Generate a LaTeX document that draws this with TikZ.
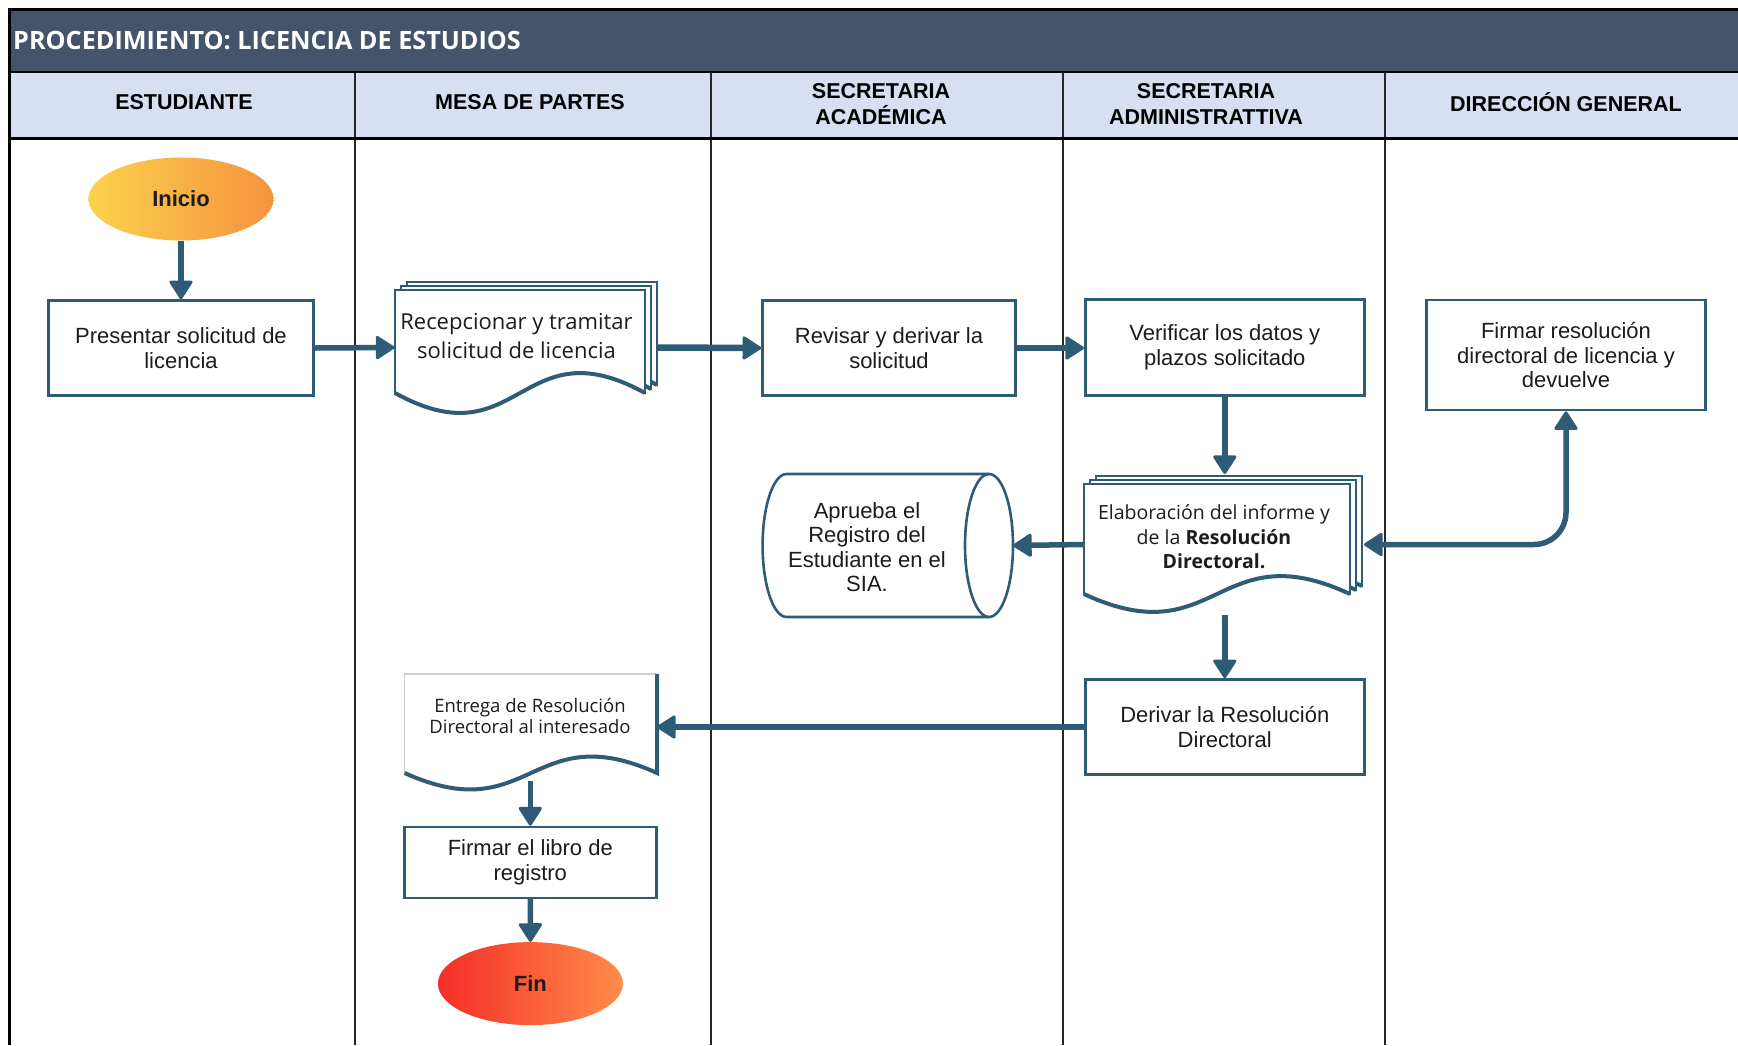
\documentclass[tikz,border=0pt]{standalone}
\usepackage{fontspec}
\setmainfont{Liberation Sans}
\newfontfamily\osans{Open Sans}
\usetikzlibrary{arrows.meta,shapes.geometric}

\definecolor{band}{HTML}{44546A}
\definecolor{lanehead}{HTML}{D9DFF2}
\definecolor{flowc}{HTML}{2E5B75}
\definecolor{boxc}{HTML}{2F5C75}
\definecolor{txt}{HTML}{1C1C1C}
\definecolor{faint}{HTML}{C9CED4}
\definecolor{startL}{HTML}{FBD24C}
\definecolor{startR}{HTML}{F5923F}
\definecolor{endL}{HTML}{F42E27}
\definecolor{endR}{HTML}{FF8C4B}

\tikzset{
  lanetitle/.style={align=center, font=\fontsize{21.5}{26.5}\selectfont\bfseries, text=black, inner sep=0pt},
  procbox/.style={draw=boxc, line width=2.6pt, fill=white, align=center, text=txt,
                  font=\fontsize{22}{24.5}\selectfont, inner sep=0pt},
  plaintext/.style={align=center, text=txt, font=\fontsize{22}{24.5}\selectfont, inner sep=0pt},
  doctext/.style={align=center, text=txt, inner sep=0pt},
  anchorbox/.style={inner sep=0pt, outer sep=0pt},
  terminal/.style={ellipse, inner sep=0pt, text=txt, font=\fontsize{22}{24}\selectfont\bfseries},
  tipshape/.tip={Triangle[round, length=20pt, width=25pt, line width=3pt]},
  flow/.style={draw=flowc, line width=5.5pt, -tipshape},
  flowboth/.style={draw=flowc, line width=5.5pt, tipshape-tipshape},
  docedge/.style={draw=boxc, line width=1.6pt, fill=white},
  docwave/.style={draw=boxc, line width=4pt},
}

% one sheet of a document: left, top, right, wave base, wave strength
\newcommand{\sheet}[5]{%
  \filldraw[docedge] (#1,#2) -- (#3,#2) -- (#3,#4)
    .. controls ({(#1+#3)/2},{#4-#5}) and ({(#1+#3)/2},{#4+#5}) .. (#1,#4) -- cycle;
  \draw[docwave] (#3,#4)
    .. controls ({(#1+#3)/2},{#4-#5}) and ({(#1+#3)/2},{#4+#5}) .. (#1,#4);
}

\begin{document}
\begin{tikzpicture}[x=1pt,y=-1pt]
\useasboundingbox (0,0) rectangle (1738,1045);
\fill[white] (0,0) rectangle (1738,1045);

% title band and lane headers
\fill[band] (9,9) rectangle (1738,72);
\fill[lanehead] (9,72) rectangle (1738,138.5);
\foreach \xx in {355,711,1063,1385}
  \draw[line width=1.6pt, black!85] (\xx,72) -- (\xx,1045);
\draw[black, line width=2.5pt] (9,72) -- (1738,72);
\draw[black, line width=3pt] (9,138.5) -- (1738,138.5);
\draw[black, line width=3pt] (9,1045) -- (9,9) -- (1738,9);

\node[anchor=west, inner sep=0pt, text=white, font=\osans\bfseries\fontsize{25.2}{29}\selectfont]
  (title) at (13,41) {PROCEDIMIENTO: LICENCIA DE ESTUDIOS};

\node[lanetitle] (lane1) at (184,102.5) {ESTUDIANTE};
\node[lanetitle] (lane2) at (530,102.5) {MESA DE PARTES};
\node[lanetitle] (lane3) at (881,104) {SECRETARIA\\ACADÉMICA};
\node[lanetitle] (lane4) at (1206,104) {SECRETARIA\\ADMINISTRATTIVA};
\node[lanetitle] (lane5) at (1566,102.5) {DIRECCIÓN GENERAL};

% terminals
\node[terminal, minimum width=185pt, minimum height=83pt,
      left color=startL, right color=startR]
  (ini) at (181,199) {Inicio};
\node[terminal, minimum width=185pt, minimum height=83pt,
      left color=endL, right color=endR]
  (fin) at (530.4,983.6) {Fin};

% process boxes
\node[procbox, minimum width=265pt, minimum height=95pt] (pres) at (181,348)
  {Presentar solicitud de\\licencia};
\node[procbox, minimum width=253pt, minimum height=95pt] (rev) at (889,348)
  {Revisar y derivar la\\solicitud};
\node[procbox, minimum width=279pt, minimum height=96pt] (ver) at (1224.8,347.5)
  {Verificar los datos y\\plazos solicitado};
\node[procbox, minimum width=279pt, minimum height=110pt] (fir) at (1566,355)
  {Firmar resolución\\directoral de licencia y\\devuelve};
\node[procbox, minimum width=279pt, minimum height=95pt] (der) at (1224.8,727)
  {Derivar la Resolución\\Directoral};
\node[procbox, minimum width=252pt, minimum height=71pt] (lib) at (530.3,862.4)
  {Firmar el libro de\\registro};

% stacked documents: Recepcionar
\sheet{407}{282}{657}{385}{69}
\sheet{401}{286}{651}{389}{69}
\sheet{395}{290}{645}{393}{69}
\node[anchorbox, minimum width=263pt, minimum height=131pt] (rec) at (526,347.5) {};
\node[doctext, font=\osans\fontsize{22}{28.5}\selectfont] (rec-t) at (516.5,336)
  {Recepcionar y tramitar\\solicitud de licencia};

% stacked documents: Elaboracion
\sheet{1096}{476}{1362}{586}{62}
\sheet{1090}{480}{1356}{590}{62}
\sheet{1084}{484}{1350}{594}{62}
\node[anchorbox, minimum width=280pt, minimum height=141pt] (elab) at (1224,544.5) {};
\node[doctext, font=\osans\fontsize{19.5}{24.5}\selectfont] (elab-t) at (1214,537)
  {Elaboración del informe y\\de la \textbf{Resolución}\\\textbf{Directoral.}};

% stored data: horizontal cylinder
\filldraw[draw=boxc, line width=2.6pt, fill=white]
  (786.6,474) -- (989,474)
  arc[start angle=-90, end angle=90, x radius=24, y radius=71.5]
  -- (786.6,617)
  arc[start angle=90, end angle=270, x radius=24, y radius=71.5] -- cycle;
\draw[draw=boxc, line width=2.6pt]
  (989,474) arc[start angle=-90, end angle=-270, x radius=24, y radius=71.5];
\node[anchorbox, minimum width=250pt, minimum height=143pt] (cyl) at (888,545.5) {};
\node[plaintext] (cyl-t) at (867,547)
  {Aprueba el\\Registro del\\Estudiante en el\\SIA.};

% single document: Entrega
\fill[white] (404.6,674) -- (657,674) -- (657,773)
  .. controls (531,716) and (531,830) .. (404.6,773) -- cycle;
\draw[draw=faint, line width=1.2pt] (404.6,773) -- (404.6,674) -- (657,674);
\draw[draw=boxc, line width=4pt] (657,674) -- (657,773)
  .. controls (531,716) and (531,830) .. (404.6,773);
\node[anchorbox, minimum width=252pt, minimum height=107pt] (ent) at (531,727.5) {};
\node[doctext, font=\osans\fontsize{18.5}{21.5}\selectfont] (ent-t) at (530,716)
  {Entrega de Resolución\\Directoral al interesado};

% connectors
\draw[flow] (ini.south) -- (pres.north);
\draw[flow] (pres.east) -- (rec.west);
\draw[flow, line width=6.5pt] (rec.east) -- (rev.west);
\draw[flow] (rev.east) -- (rev.east -| ver.west);
\draw[flow] (ver.south) -- (ver.south |- elab.north);
\draw[flow] (elab.west) -- (cyl.east);
\draw[flowboth, rounded corners=32pt] (elab.east) -- (elab.east -| fir.south) -- (fir.south);
\draw[flow] (elab.south -| der.north) -- (der.north);
\draw[flow] (der.west) -- (der.west -| ent.east);
\draw[flow] (ent.south -| lib.north) -- (lib.north);
\draw[flow] (lib.south) -- (fin.north);
\end{tikzpicture}
\end{document}
